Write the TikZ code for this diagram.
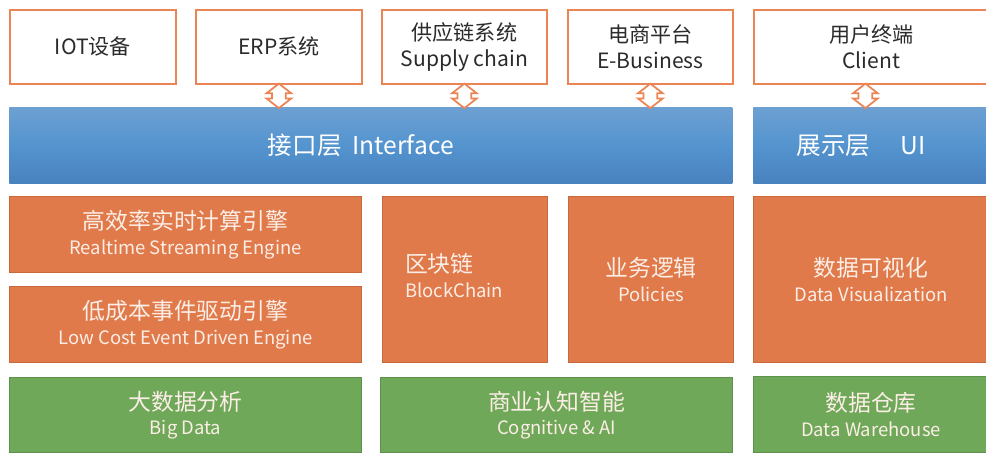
\documentclass[tikz,border=0pt]{standalone}
\usepackage{fontspec}
\setmainfont{Noto Sans CJK SC}
\usepackage{xcolor}
\usepackage{tikz}
\usetikzlibrary{positioning,calc,shapes.arrows}
\definecolor{lineorange}{HTML}{EB8556}
\definecolor{boxorange}{HTML}{E07A4B}
\definecolor{edgeorange}{HTML}{C9683D}
\definecolor{boxgreen}{HTML}{70A85A}
\definecolor{edgegreen}{HTML}{5E914B}
\definecolor{bartop}{HTML}{6DA0D2}
\definecolor{barmid}{HTML}{5494CF}
\definecolor{barbot}{HTML}{4982BE}
\definecolor{textgray}{HTML}{2B2B2B}
\definecolor{softwhite}{HTML}{FCEEE6}
\newcommand{\entxt}{\fontsize{10.5}{12}\selectfont}
\tikzset{link arrow/.style = {double arrow,shape border rotate=90,draw=lineorange,fill=white,line width=1pt,
    inner sep=0.12cm,minimum height=0.48cm,minimum width=0.46cm,double arrow head extend=0.11cm,
    double arrow tip angle=104}}

\begin{document}
\begin{tikzpicture}[every node/.style={inner sep=0pt,anchor=north west,align=center},
    top box/.style={draw=lineorange,line width=1pt,fill=white,text=textgray,font=\fontsize{12}{15}\selectfont},
    layer bar/.style={top color=bartop,bottom color=barbot,middle color=barmid,text=white,font=\fontsize{14}{16}\selectfont},
    orange box/.style={fill=boxorange,draw=edgeorange,line width=0.6pt,text=softwhite,font=\fontsize{13}{16}\selectfont},
    green box/.style={fill=boxgreen,draw=edgegreen,line width=0.6pt,text=softwhite,font=\fontsize{13}{16}\selectfont}]
                    \useasboundingbox (0,0) rectangle (19.72,-9.06);
                    % outside systems
                    \node[top box,minimum width=3.32cm,minimum height=1.48cm] (iot) at (0.18,-0.18) {IOT设备};
                    \node[top box,minimum width=3.32cm,minimum height=1.48cm] (erp) at (3.90,-0.18) {ERP系统};
                    \node[top box,minimum width=3.30cm,minimum height=1.48cm] (supply) at (7.62,-0.18) {供应链系统\\Supply chain};
                    \node[top box,minimum width=3.30cm,minimum height=1.48cm] (ebiz) at (11.34,-0.18) {电商平台\\E-Business};
                    \node[top box,minimum width=4.70cm,minimum height=1.48cm] (client) at (15.06,-0.18) {用户终端\\Client};

                    % layers
                    \node[layer bar,minimum width=14.46cm,minimum height=1.52cm] (iface) at (0.18,-2.14) {接口层~~Interface\hspace*{0.4cm}};
                    \node[layer bar,minimum width=4.70cm,minimum height=1.52cm] (ui) at (15.06,-2.14) {展示层\quad\ UI\hspace*{0.4cm}};

                    \node[orange box,minimum width=7.04cm,minimum height=1.52cm] (rts) at (0.18,-3.92) {高效率实时计算引擎\\[-2pt]{\entxt Realtime Streaming Engine}};
                    \node[orange box,minimum width=7.04cm,minimum height=1.52cm] (led) at (0.18,-5.72) {低成本事件驱动引擎\\[-2pt]{\entxt Low Cost Event Driven Engine}};
                    \node[orange box,minimum width=3.30cm,minimum height=3.32cm] (chain) at (7.64,-3.92) {\begin{tabular}{@{}l@{}}区块链\\[-2pt]{\entxt BlockChain}\end{tabular}\hspace*{0.44cm}};
                    \node[orange box,minimum width=3.30cm,minimum height=3.32cm] (policy) at (11.36,-3.92) {业务逻辑\\[-2pt]{\entxt Policies}};
                    \node[orange box,minimum width=4.70cm,minimum height=3.32cm] (dviz) at (15.06,-3.92) {数据可视化\\[-2pt]{\entxt Data Visualization}};

                    \node[green box,minimum width=7.04cm,minimum height=1.50cm] (bigdata) at (0.18,-7.54) {大数据分析\\[-2pt]{\entxt Big Data}};
                    \node[green box,minimum width=7.04cm,minimum height=1.50cm] (cogai) at (7.60,-7.54) {商业认知智能\\[-2pt]{\entxt Cognitive \& AI}};
                    \node[green box,minimum width=4.70cm,minimum height=1.52cm] (dwh) at (15.06,-7.52) {数据仓库\\[-2pt]{\entxt Data Warehouse}};

                    % links
                    \node[link arrow,anchor=center] (a1) at ($(erp.south)!0.5!(erp.south |- iface.north)$) {};
                    \node[link arrow,anchor=center] (a2) at ($(supply.south)!0.5!(supply.south |- iface.north)$) {};
                    \node[link arrow,anchor=center] (a3) at ($(ebiz.south)!0.5!(ebiz.south |- iface.north)$) {};
                    \node[link arrow,anchor=center] (a4) at ($(client.south)!0.5!(client.south |- ui.north)+(-0.12,0)$) {};
                \end{tikzpicture}
\end{document}
